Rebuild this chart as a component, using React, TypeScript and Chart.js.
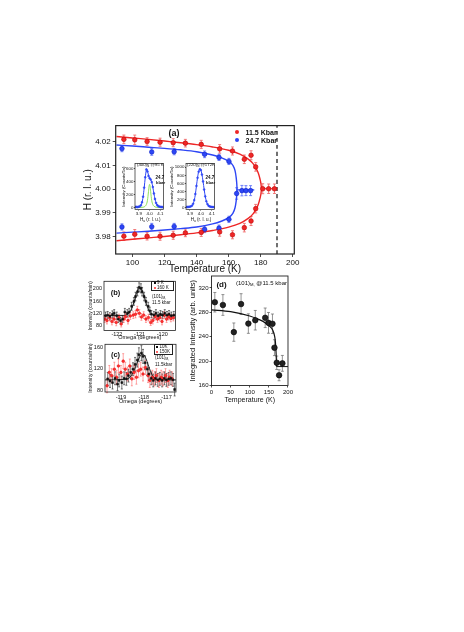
import React, { useEffect, useRef } from "react";
import { Chart, registerables } from "chart.js";
Chart.register(...registerables);

const FONT = "'Liberation Sans', Arial, Helvetica, sans-serif";

// ---------- Panel (a): H vs Temperature ----------
const aXTicks = [100, 120, 140, 160, 180, 200];
const aYTicks = [3.98, 3.99, 4.0, 4.01, 4.02];
const redT = [94.6, 101.4, 109.1, 117.2, 125.4, 133.0, 142.9, 154.4, 162.4, 169.8, 174.0, 176.9];
const redUpperH = [4.021, 4.0208, 4.0201, 4.0198, 4.0196, 4.0194, 4.0189, 4.017, 4.0161, 4.0126, 4.0143, 4.0094];
const redLowerH = [3.9802, 3.981, 3.9802, 3.9802, 3.9806, 3.9816, 3.9818, 3.982, 3.9808, 3.9838, 3.9866, 3.9918];
const redErr = [0.0018, 0.002, 0.0016, 0.0017, 0.0017, 0.0016, 0.0017, 0.0018, 0.0017, 0.0018, 0.0019, 0.0018];
const redMidT = [181.3, 185.0, 188.6];
const redMidH = [4.0002, 4.0002, 4.0002];
const redMidErr = [0.0021, 0.002, 0.002];
const blueT = [93.4, 112.0, 126.0, 145.0, 154.0, 160.2];
const blueUpperH = [4.0171, 4.0157, 4.0158, 4.0147, 4.0134, 4.0117];
const blueLowerH = [3.9841, 3.9842, 3.9843, 3.9831, 3.9836, 3.9873];
const blueErr = [0.0013, 0.0014, 0.0013, 0.0014, 0.0013, 0.0013];
const blueMidT = [165.0, 168.3, 170.8, 173.7];
const blueMidH = [3.9982, 3.9994, 3.9994, 3.9994];
const blueMidErr = [0.0024, 0.0022, 0.0021, 0.0021];
const redFitT = [90, 100, 110, 120, 130, 140, 150, 160, 167, 172, 175, 177, 178.5, 179.5, 180.2, 180.5];
const redFitUpper = [4.0222, 4.0216, 4.021, 4.0203, 4.0196, 4.0188, 4.0178, 4.0164, 4.0148, 4.0128, 4.011, 4.009, 4.0068, 4.0045, 4.0022, 4.0002];
const redFitLower = [3.9783, 3.9789, 3.9795, 3.9801, 3.9808, 3.9816, 3.9826, 3.984, 3.9856, 3.9876, 3.9894, 3.9914, 3.9936, 3.9959, 3.9982, 4.0002];
const redFlatT = [180.5, 190.5];
const redFlatH = [4.0002, 4.0002];
const blueFitT = [90, 100, 110, 120, 130, 140, 150, 155, 160, 162.5, 164, 164.7, 165.1, 165.3];
const blueFitUpper = [4.0186, 4.0182, 4.0177, 4.0172, 4.0166, 4.0158, 4.0144, 4.0134, 4.0118, 4.0102, 4.0078, 4.005, 4.0022, 3.9997];
const blueFitLower = [3.9815, 3.9819, 3.9823, 3.9828, 3.9834, 3.9841, 3.9854, 3.9864, 3.988, 3.9897, 3.9922, 3.995, 3.9978, 3.9997];
const blueFlatT = [165.3, 176.0];
const blueFlatH = [3.9997, 3.9997];
const dashT = [190.2, 190.2];
const dashH = [3.9727, 4.0268];

// ---------- Insets ----------
const inXTicks = [3.9, 4.0, 4.1];
const in1YTicks = [0, 200, 400, 600];
const in1H = [3.87, 3.88, 3.89, 3.9, 3.91, 3.92, 3.93, 3.94, 3.95, 3.96, 3.97, 3.98, 3.99, 4.0, 4.01, 4.02, 4.03, 4.04, 4.05, 4.06, 4.07, 4.08, 4.09, 4.1, 4.11, 4.12];
const in1I = [12, 14, 10, 16, 22, 40, 85, 170, 310, 470, 590, 560, 490, 455, 435, 395, 320, 220, 135, 75, 42, 25, 18, 14, 12, 10];
const in1FitH = [3.865, 3.9, 3.92, 3.93, 3.94, 3.95, 3.96, 3.97, 3.975, 3.98, 3.99, 4.0, 4.01, 4.02, 4.03, 4.04, 4.05, 4.06, 4.08, 4.128];
const in1FitI = [10, 15, 38, 82, 168, 305, 465, 585, 600, 575, 500, 460, 435, 395, 318, 222, 135, 75, 24, 10];
const in1GreenH = [3.865, 3.94, 3.96, 3.97, 3.98, 3.99, 3.995, 4.0, 4.005, 4.01, 4.02, 4.03, 4.04, 4.06, 4.128];
const in1GreenI = [2, 8, 25, 50, 110, 250, 330, 360, 330, 250, 110, 50, 25, 8, 2];
const in2YTicks = [0, 200, 400, 600, 800, 1000];
const in2H = [3.87, 3.88, 3.89, 3.9, 3.91, 3.92, 3.93, 3.94, 3.95, 3.96, 3.97, 3.98, 3.99, 4.0, 4.01, 4.02, 4.03, 4.04, 4.05, 4.06, 4.07, 4.08, 4.09, 4.1, 4.11, 4.12];
const in2I = [18, 20, 22, 26, 35, 55, 100, 190, 340, 540, 740, 890, 950, 930, 820, 650, 450, 280, 160, 90, 50, 32, 25, 20, 18, 16];
const in2FitH = [3.865, 3.9, 3.92, 3.94, 3.95, 3.96, 3.97, 3.98, 3.99, 3.995, 4.0, 4.01, 4.02, 4.03, 4.04, 4.05, 4.07, 4.1, 4.123];
const in2FitI = [18, 25, 50, 185, 335, 540, 745, 895, 955, 960, 935, 820, 650, 450, 280, 160, 50, 20, 16];

// ---------- Panel (b) ----------
const bXTicks = [-122, -121, -120];
const bYTicks = [80, 120, 160, 200];
const bBlackX = [-122.5, -122.41, -122.31, -122.2, -122.12, -122.01, -121.94, -121.84, -121.75, -121.65, -121.54, -121.46, -121.35, -121.25, -121.18, -121.09, -121.02, -120.94, -120.89, -120.8, -120.72, -120.62, -120.55, -120.48, -120.37, -120.28, -120.18, -120.08, -119.99, -119.89, -119.79, -119.7, -119.6, -119.49];
const bBlackY = [112, 114, 110, 116, 120, 112, 101, 96, 101, 124, 120, 124, 143, 159, 175, 191, 205, 202, 191, 175, 159, 143, 128, 117, 114, 120, 112, 117, 114, 120, 114, 117, 112, 114];
const bBlackErr = [12, 12, 12, 12, 12, 12, 11, 11, 11, 12, 12, 12, 13, 13, 14, 14, 15, 15, 14, 14, 13, 13, 12, 12, 12, 12, 12, 12, 12, 12, 12, 12, 12, 12];
const bRedX = [-122.54, -122.44, -122.32, -122.22, -122.13, -122.03, -121.91, -121.81, -121.7, -121.62, -121.51, -121.41, -121.28, -121.18, -121.1, -121.01, -120.92, -120.82, -120.72, -120.61, -120.51, -120.42, -120.31, -120.21, -120.11, -120.01, -119.92, -119.81, -119.72, -119.62, -119.51];
const bRedY = [101, 96, 106, 93, 101, 90, 106, 85, 101, 109, 96, 111, 114, 117, 131, 120, 108, 114, 101, 106, 90, 96, 109, 101, 106, 93, 114, 101, 109, 103, 106];
const bRedErr = [11, 11, 11, 11, 11, 11, 11, 10, 11, 11, 11, 11, 11, 12, 12, 12, 11, 11, 11, 11, 10, 11, 11, 11, 11, 11, 11, 11, 11, 11, 11];
const bFitX = [-122.57, -121.7, -121.55, -121.45, -121.35, -121.25, -121.15, -121.05, -121.0, -120.95, -120.85, -120.75, -120.65, -120.55, -120.45, -120.3, -119.42];
const bFitY = [113, 113, 116, 122, 135, 156, 181, 200, 203, 201, 187, 163, 140, 124, 117, 114, 113];

// ---------- Panel (c) ----------
const cXTicks = [-119, -118, -117];
const cYTicks = [80, 120, 160];
const cBlackX = [-119.58, -119.48, -119.37, -119.26, -119.15, -119.08, -118.96, -118.86, -118.76, -118.67, -118.57, -118.47, -118.38, -118.28, -118.21, -118.1, -118.03, -117.94, -117.84, -117.77, -117.67, -117.58, -117.48, -117.38, -117.29, -117.19, -117.09, -117.0, -116.9, -116.8, -116.71, -116.64];
const cBlackY = [101, 97, 94, 102, 91, 98, 94, 102, 101, 107, 113, 119, 128, 136, 146, 149, 143, 131, 119, 110, 102, 98, 102, 99, 101, 98, 102, 99, 101, 102, 99, 81];
const cBlackErr = [12, 12, 12, 12, 12, 12, 12, 12, 12, 12, 12, 12, 13, 13, 13, 14, 13, 13, 12, 12, 12, 12, 12, 12, 12, 12, 12, 12, 12, 12, 12, 12];
const cRedX = [-119.61, -119.51, -119.41, -119.29, -119.19, -119.11, -119.0, -118.9, -118.81, -118.71, -118.61, -118.52, -118.42, -118.32, -118.23, -118.13, -118.03, -117.92, -117.81, -117.73, -117.62, -117.52, -117.44, -117.33, -117.23, -117.15, -117.04, -116.94, -116.86, -116.75];
const cRedY = [88, 113, 107, 119, 104, 125, 113, 134, 119, 110, 125, 101, 113, 104, 116, 119, 110, 122, 107, 98, 104, 101, 107, 98, 104, 101, 107, 98, 104, 101];
const cRedErr = [13, 13, 13, 13, 13, 13, 13, 14, 13, 13, 13, 13, 13, 13, 13, 13, 13, 13, 13, 13, 13, 13, 13, 13, 13, 13, 13, 13, 13, 13];
const cFitX = [-119.7, -118.8, -118.6, -118.5, -118.4, -118.3, -118.2, -118.1, -118.0, -117.9, -117.8, -117.7, -117.6, -117.5, -117.3, -116.58];
const cFitY = [99, 100, 104, 110, 119, 130, 140, 146, 146, 139, 127, 115, 106, 101, 99, 99];

// ---------- Panel (d) ----------
const dXTicks = [0, 50, 100, 150, 200];
const dYTicks = [160, 200, 240, 280, 320];
const dT = [8.7, 29.8, 58.4, 77.3, 96.4, 114.5, 140.4, 149.0, 159.4, 164.6, 170.6, 176.7, 185.3];
const dI = [296.5, 292, 247.5, 293.5, 261.5, 267, 271, 262.7, 261.2, 222, 197.3, 176.8, 196.3];
const dErr = [16, 17, 15, 17, 16, 16, 16, 17, 16, 13, 11, 9, 13];
const dFitT = [0, 50, 100, 125, 140, 150, 160, 165, 167, 168.5, 169.5, 170];
const dFitI = [284, 281, 274, 268, 263, 258, 251, 241, 232, 218, 203, 191];
const dFlatT = [170, 200];
const dFlatI = [191, 191];

// ---------- helpers ----------
const pts = (xs: number[], ys: number[]) => xs.map((x, i) => ({ x, y: ys[i] }));

const RED = "rgb(238,38,38)";
const RED_D = "rgb(190,0,0)";
const RED_E = "rgba(240,100,100,0.95)";
const BLUE = "rgb(45,70,245)";
const BLUE_D = "rgb(10,30,200)";
const BLUE_E = "rgba(90,110,250,0.95)";

const errorBars = {
  id: "errorBars",
  beforeDatasetsDraw(chart: any) {
    const ctx = chart.ctx;
    chart.data.datasets.forEach((ds: any, i: number) => {
      if (!ds.errors) return;
      const meta = chart.getDatasetMeta(i);
      const xs = chart.scales[meta.xAxisID];
      const ys = chart.scales[meta.yAxisID];
      ctx.save();
      ctx.strokeStyle = ds.errorColor || ds.borderColor;
      ctx.lineWidth = ds.errorWidth || 1;
      const cap = ds.capHalf ?? 1.5;
      ds.data.forEach((p: any, j: number) => {
        const e = ds.errors[j];
        const x = xs.getPixelForValue(p.x);
        const y1 = ys.getPixelForValue(p.y - e);
        const y2 = ys.getPixelForValue(p.y + e);
        ctx.beginPath();
        ctx.moveTo(x, y1);
        ctx.lineTo(x, y2);
        ctx.moveTo(x - cap, y1);
        ctx.lineTo(x + cap, y1);
        ctx.moveTo(x - cap, y2);
        ctx.lineTo(x + cap, y2);
        ctx.stroke();
      });
      ctx.restore();
    });
  },
};

const frame = {
  id: "frame",
  beforeDraw(chart: any, _a: any, opts: any) {
    if (!opts.fill) return;
    const { left, top, right, bottom } = chart.chartArea;
    const ctx = chart.ctx;
    ctx.save();
    ctx.fillStyle = opts.fill;
    ctx.fillRect(left, top, right - left, bottom - top);
    ctx.restore();
  },
  afterDraw(chart: any, _a: any, opts: any) {
    const { left, top, right, bottom } = chart.chartArea;
    const ctx = chart.ctx;
    ctx.save();
    ctx.strokeStyle = opts.color || "#222";
    ctx.lineWidth = opts.width || 1;
    ctx.strokeRect(left, top, right - left, bottom - top);
    ctx.restore();
  },
};

type AxisSpec = {
  min: number; max: number; ticks: number[]; digits: number; font: number;
  title?: string; titleFont?: number; titlePad?: number; tickLen: number; tickPad: number;
};
type Spec = {
  l: number; t: number; w: number; h: number;
  aL: number; aT: number; aR: number; aB: number;
  x: AxisSpec; y: AxisSpec; datasets: any[]; frameWidth: number; fill?: string;
};

function axis(a: AxisSpec, position: string, size: number) {
  return {
    type: "linear",
    position,
    min: a.min,
    max: a.max,
    afterBuildTicks: (s: any) => {
      s.ticks = a.ticks.map((v) => ({ value: v }));
    },
    afterFit: (s: any) => {
      if (position === "bottom") s.height = size;
      else s.width = size;
    },
    grid: {
      display: true,
      drawOnChartArea: false,
      drawTicks: a.tickLen > 0,
      tickLength: a.tickLen,
      tickColor: "#222",
      tickWidth: 0.8,
      color: "#222",
    },
    border: { display: false },
    ticks: {
      autoSkip: false,
      maxRotation: 0,
      minRotation: 0,
      padding: a.tickPad,
      font: { family: FONT, size: a.font },
      color: "#111",
      callback: (v: any) => Number(v).toFixed(a.digits),
    },
    title: a.title
      ? {
          display: true,
          text: a.title,
          font: { family: FONT, size: a.titleFont },
          color: "#111",
          padding: { top: a.titlePad, bottom: a.titlePad },
        }
      : { display: false },
  };
}

function buildConfig(s: Spec): any {
  const yW = s.aL - s.l;
  const xH = s.t + s.h - s.aB;
  return {
    type: "scatter",
    data: { datasets: s.datasets },
    options: {
      responsive: false,
      animation: false,
      devicePixelRatio: 1,
      layout: { padding: { left: 0, top: s.aT - s.t, right: s.l + s.w - s.aR, bottom: 0 } },
      plugins: {
        legend: { display: false },
        tooltip: { enabled: false },
        frame: { width: s.frameWidth, fill: s.fill, color: "#222" },
      },
      scales: { x: axis(s.x, "bottom", xH), y: axis(s.y, "left", yW) },
    },
    plugins: [frame, errorBars],
  };
}

function Panel({ spec }: { spec: Spec }) {
  const ref = useRef<HTMLCanvasElement>(null);
  useEffect(() => {
    const chart = new Chart(ref.current as HTMLCanvasElement, buildConfig(spec));
    return () => chart.destroy();
  }, []);
  return (
    <canvas
      ref={ref}
      width={spec.w}
      height={spec.h}
      style={{ position: "absolute", left: spec.l, top: spec.t, width: spec.w, height: spec.h }}
    />
  );
}

const scat = (xs: number[], ys: number[], errs: number[], o: any) => ({
  data: pts(xs, ys),
  errors: errs,
  showLine: false,
  pointRadius: o.r,
  pointStyle: o.style || "circle",
  backgroundColor: o.fill,
  borderColor: o.stroke,
  borderWidth: o.bw ?? 0.6,
  errorColor: o.ecolor,
  errorWidth: o.ew ?? 0.9,
  capHalf: o.cap ?? 1.5,
});
const line = (xs: number[], ys: number[], color: string, width: number, dash?: number[]) => ({
  data: pts(xs, ys),
  showLine: true,
  pointRadius: 0,
  borderColor: color,
  backgroundColor: color,
  borderWidth: width,
  borderDash: dash || [],
  cubicInterpolationMode: "monotone",
  fill: false,
});

const specA: Spec = {
  l: 78, t: 115, w: 232, h: 165, aL: 115.7, aT: 125.6, aR: 294.3, aB: 254, frameWidth: 1.2,
  x: { min: 89.5, max: 201, ticks: aXTicks, digits: 0, font: 8, title: "Temperature (K)", titleFont: 10, titlePad: 4.5, tickLen: 3, tickPad: 1 },
  y: { min: 3.9727, max: 4.0268, ticks: aYTicks, digits: 2, font: 8, title: "H (r. l. u.)", titleFont: 10, titlePad: 4, tickLen: 3, tickPad: 2 },
  datasets: [
    scat(redT, redUpperH, redErr, { r: 2.3, fill: RED, stroke: RED_D, ecolor: RED_E }),
    scat(redT, redLowerH, redErr, { r: 2.3, fill: RED, stroke: RED_D, ecolor: RED_E }),
    scat(redMidT, redMidH, redMidErr, { r: 2.3, fill: RED, stroke: RED_D, ecolor: RED_E }),
    scat(blueT, blueUpperH, blueErr, { r: 2.3, fill: BLUE, stroke: BLUE_D, ecolor: BLUE_E }),
    scat(blueT, blueLowerH, blueErr, { r: 2.3, fill: BLUE, stroke: BLUE_D, ecolor: BLUE_E }),
    scat(blueMidT, blueMidH, blueMidErr, { r: 2.3, fill: BLUE, stroke: BLUE_D, ecolor: BLUE_E }),
    line(redFitT, redFitUpper, RED, 1.4),
    line(redFitT, redFitLower, RED, 1.4),
    line(redFlatT, redFlatH, RED, 1.2),
    line(blueFitT, blueFitUpper, BLUE, 1.4),
    line(blueFitT, blueFitLower, BLUE, 1.4),
    line(blueFlatT, blueFlatH, BLUE, 1.2),
    line(dashT, dashH, "#111", 1.2, [4, 3]),
  ],
};

const specIn1: Spec = {
  l: 120, t: 159, w: 48, h: 63, aL: 135, aT: 162, aR: 165.5, aB: 209.5, frameWidth: 0.7, fill: "#fff",
  x: { min: 3.865, max: 4.128, ticks: inXTicks, digits: 1, font: 4.4, tickLen: 1, tickPad: 0.5 },
  y: { min: -27, max: 680, ticks: in1YTicks, digits: 0, font: 4.4, title: "Intensity (Counts/5s)", titleFont: 4.4, titlePad: 0.8, tickLen: 1, tickPad: 0.6 },
  datasets: [
    scat(in1H, in1I, in1I.map(() => 0), { r: 0.9, fill: BLUE, stroke: BLUE, ecolor: BLUE, ew: 0.01, cap: 0 }),
    line(in1FitH, in1FitI, BLUE, 1),
    line(in1GreenH, in1GreenI, "rgb(130,220,70)", 0.9),
  ],
};

const specIn2: Spec = {
  l: 168, t: 159, w: 51, h: 63, aL: 186, aT: 162, aR: 216, aB: 209.5, frameWidth: 0.7, fill: "#fff",
  x: { min: 3.865, max: 4.123, ticks: inXTicks, digits: 1, font: 4.4, tickLen: 1, tickPad: 0.5 },
  y: { min: -43, max: 1090, ticks: in2YTicks, digits: 0, font: 4.4, title: "Intensity (Counts/5s)", titleFont: 4.4, titlePad: 1.3, tickLen: 1, tickPad: 0.6 },
  datasets: [
    scat(in2H, in2I, in2I.map(() => 0), { r: 0.9, fill: BLUE, stroke: BLUE, ecolor: BLUE, ew: 0.01, cap: 0 }),
    line(in2FitH, in2FitI, BLUE, 1),
  ],
};

const specB: Spec = {
  l: 86, t: 276, w: 94, h: 65, aL: 104, aT: 279.5, aR: 175.5, aB: 330.5, frameWidth: 0.8,
  x: { min: -122.57, max: -119.42, ticks: bXTicks, digits: 0, font: 5.5, title: "Omega (degrees)", titleFont: 5.5, titlePad: 0.3, tickLen: 0, tickPad: 0.5 },
  y: { min: 63.5, max: 225, ticks: bYTicks, digits: 0, font: 5.5, title: "Intensity (counts/min)", titleFont: 5.2, titlePad: 1.4, tickLen: 0, tickPad: 2 },
  datasets: [
    scat(bBlackX, bBlackY, bBlackErr, { r: 1.3, style: "rect", fill: "#111", stroke: "#111", ecolor: "#222", ew: 0.6, cap: 1 }),
    scat(bRedX, bRedY, bRedErr, { r: 1.3, fill: "rgb(255,50,50)", stroke: "rgb(230,20,20)", ecolor: "rgba(255,90,90,0.9)", ew: 0.6, cap: 1 }),
    line(bFitX, bFitY, "#111", 0.9),
  ],
};

const specC: Spec = {
  l: 86, t: 339, w: 95, h: 67, aL: 105, aT: 343, aR: 176, aB: 392, frameWidth: 0.8,
  x: { min: -119.7, max: -116.58, ticks: cXTicks, digits: 0, font: 5.5, title: "Omega (degrees)", titleFont: 5.5, titlePad: 0.9, tickLen: 0, tickPad: 2 },
  y: { min: 76.4, max: 165.5, ticks: cYTicks, digits: 0, font: 5.5, title: "Intensity (counts/min)", titleFont: 5.2, titlePad: 1.6, tickLen: 0, tickPad: 2 },
  datasets: [
    scat(cBlackX, cBlackY, cBlackErr, { r: 1.3, style: "rect", fill: "#111", stroke: "#111", ecolor: "#222", ew: 0.6, cap: 1 }),
    scat(cRedX, cRedY, cRedErr, { r: 1.3, fill: "rgb(255,50,50)", stroke: "rgb(230,20,20)", ecolor: "rgba(255,90,90,0.9)", ew: 0.6, cap: 1 }),
    line(cFitX, cFitY, "#111", 0.9),
  ],
};

const specD: Spec = {
  l: 188, t: 270, w: 106, h: 135, aL: 211.5, aT: 276, aR: 289.3, aB: 385.5, frameWidth: 0.9,
  x: { min: 0, max: 200, ticks: dXTicks, digits: 0, font: 6, title: "Temperature (K)", titleFont: 7, titlePad: 0.8, tickLen: 2, tickPad: 1 },
  y: { min: 160, max: 339.5, ticks: dYTicks, digits: 0, font: 6, title: "Integrated Intensity (arb. units)", titleFont: 7.5, titlePad: 0.5, tickLen: 2, tickPad: 1 },
  datasets: [
    scat(dT, dI, dErr, { r: 2.8, fill: "#222", stroke: "#000", ecolor: "#666", ew: 0.7, cap: 1.5 }),
    line(dFitT, dFitI, "#111", 1.2),
    line(dFlatT, dFlatI, "#111", 1),
  ],
};

function Txt({ x, y, size, bold, left, color, children }: any) {
  return (
    <div
      style={{
        position: "absolute",
        left: x,
        top: y,
        transform: `translate(${left ? "0" : "-50%"},-50%)`,
        fontFamily: FONT,
        fontSize: size,
        fontWeight: bold ? 700 : 400,
        lineHeight: 1,
        whiteSpace: "nowrap",
        color: color || "#111",
      }}
    >
      {children}
    </div>
  );
}
const Sub = ({ children }: any) => (
  <sub style={{ fontSize: "70%", verticalAlign: "-0.25em", lineHeight: 0 }}>{children}</sub>
);
const Dot = ({ x, y, r, color, square }: any) => (
  <div
    style={{
      position: "absolute",
      left: x - r,
      top: y - r,
      width: 2 * r,
      height: 2 * r,
      borderRadius: square ? 0 : "50%",
      background: color,
    }}
  />
);

export default function App() {
  return (
    <div style={{ position: "absolute", left: 0, top: 0, width: 464, height: 632, background: "#fff", overflow: "hidden" }}>
      <Panel spec={specA} />
      <Panel spec={specIn1} />
      <Panel spec={specIn2} />
      <Panel spec={specB} />
      <Panel spec={specC} />
      <Panel spec={specD} />

      {/* panel (a) annotations */}
      <Txt x={174} y={133} size={9} bold>(a)</Txt>
      <Dot x={237} y={132} r={2.3} color={RED} />
      <Txt x={245.5} y={132} size={7} bold left>11.5 Kbar</Txt>
      <Dot x={237} y={140} r={2.3} color={BLUE} />
      <Txt x={245.5} y={140} size={7} bold left>24.7 Kbar</Txt>

      {/* insets */}
      <Txt x={150.3} y={165} size={4.3}>(400)<Sub>N</Sub> @95 K</Txt>
      <Txt x={155.5} y={178} size={4.5} bold left>24.7</Txt>
      <Txt x={156} y={183} size={4.3} bold left>kbar</Txt>
      <Txt x={150.3} y={219.5} size={4.6}>H<Sub>u</Sub> (r. l. u.)</Txt>
      <Txt x={201} y={165} size={4.3}>(220)<Sub>N</Sub> @172K</Txt>
      <Txt x={205.5} y={178} size={4.5} bold left>24.7</Txt>
      <Txt x={206} y={183} size={4.3} bold left>kbar</Txt>
      <Txt x={201} y={219.5} size={4.6}>H<Sub>u</Sub> (r. l. u.)</Txt>

      {/* panel (b) */}
      <Txt x={115.5} y={292.5} size={7.5} bold>(b)</Txt>
      <div style={{ position: "absolute", left: 151, top: 280.5, width: 23, height: 10, border: "0.7px solid #222", boxSizing: "border-box" }} />
      <Dot x={154.5} y={283.2} r={1} color="#111" square />
      <Txt x={157} y={283.2} size={4.5} left>9 K</Txt>
      <Dot x={154.5} y={287.8} r={1} color="rgb(255,50,50)" />
      <Txt x={157} y={287.8} size={4.5} left>160 K</Txt>
      <Txt x={152} y={296.6} size={4.5} left>(101)<Sub>M,</Sub></Txt>
      <Txt x={152} y={302.5} size={4.5} left>11.5 kbar</Txt>

      {/* panel (c) */}
      <Txt x={115.5} y={355} size={7.5} bold>(c)</Txt>
      <div style={{ position: "absolute", left: 154.3, top: 344, width: 19, height: 11, border: "0.7px solid #222", boxSizing: "border-box" }} />
      <Dot x={157} y={346.8} r={1} color="#111" square />
      <Txt x={159.5} y={346.8} size={4.5} left>10K</Txt>
      <Dot x={157} y={351.8} r={1} color="rgb(255,50,50)" />
      <Txt x={159.5} y={351.8} size={4.5} left>150K</Txt>
      <Txt x={155} y={358.3} size={4.5} left>(101)<Sub>M,</Sub></Txt>
      <Txt x={155} y={364.5} size={4.5} left>11.5kbar</Txt>

      {/* panel (d) */}
      <Txt x={221.5} y={285} size={8} bold>(d)</Txt>
      <Txt x={236} y={283} size={6} left>(101)<Sub>M,</Sub> @11.5 kbar</Txt>
    </div>
  );
}
